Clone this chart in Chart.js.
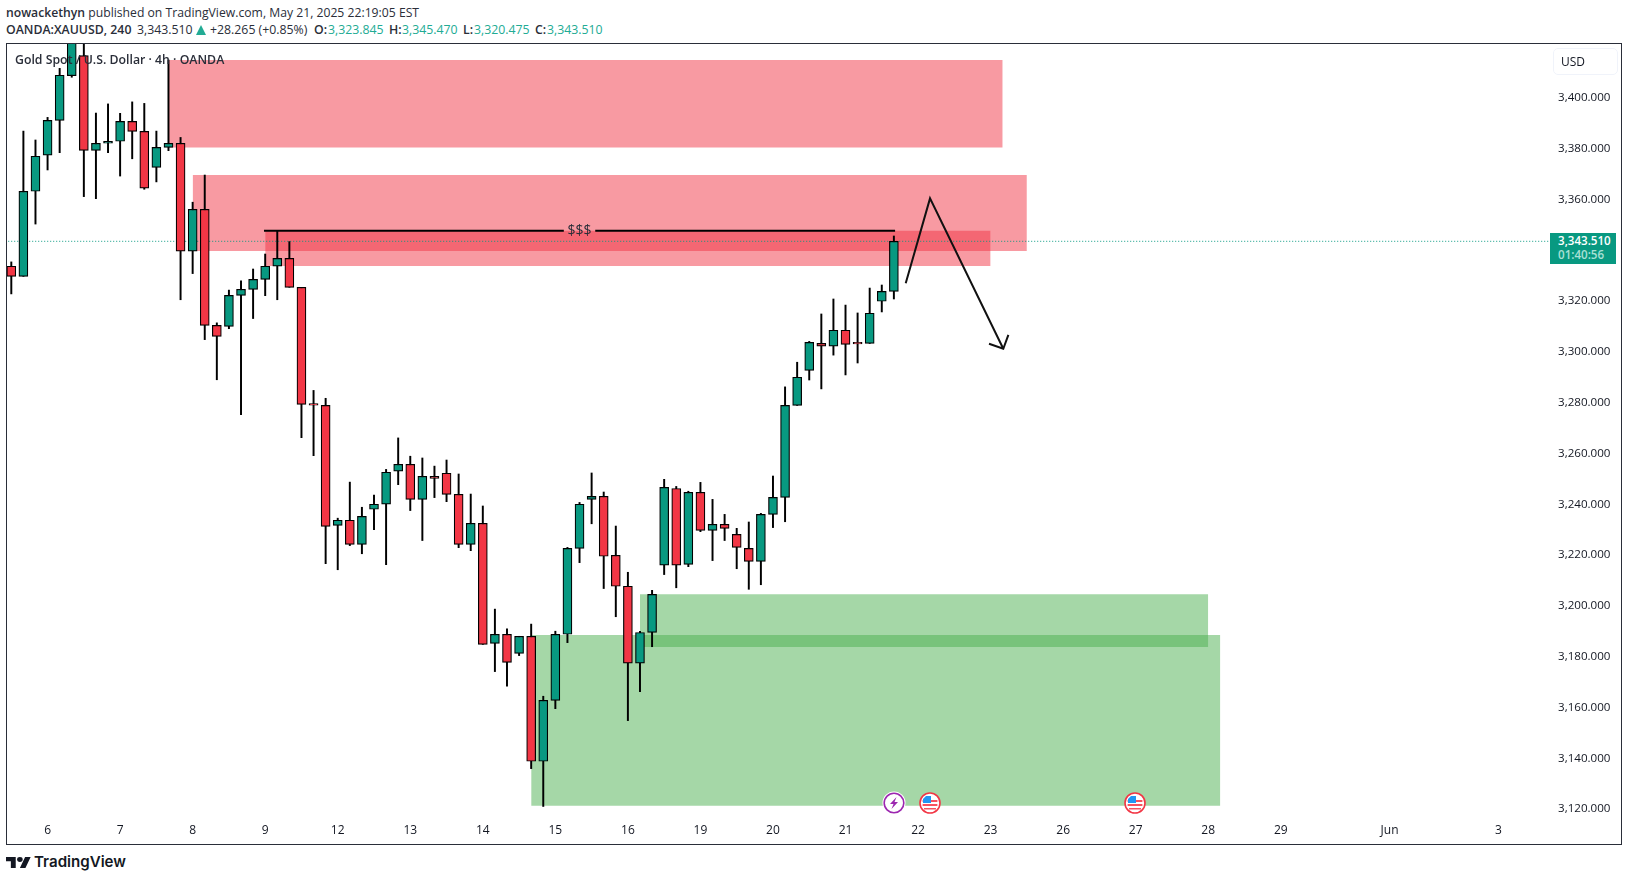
<!DOCTYPE html>
<html>
<head>
<meta charset="utf-8">
<title>XAUUSD 4h</title>
<script src="https://cdn.jsdelivr.net/npm/chart.js@4/dist/chart.umd.js"></script>
<style>
  html, body { margin: 0; padding: 0; background: #fff; }
  body { width: 1628px; height: 881px; overflow: hidden; position: relative; font-family: "Open Sans", sans-serif; color: #131722; }
  .abs { position: absolute; white-space: nowrap; }
  #frame { position: absolute; left: 6px; top: 43px; width: 1614px; height: 800px; border: 1px solid #2a2e39; }
  #chart { display: block; }
  .head { font-size: 12.2px; line-height: 16px; color: #2a2e39; }
  .row2 { font-size: 12.3px; line-height: 16px; color: #2a2e39; top: 22px; }
  .b { font-weight: 600; }
  .teal { color: #22ab94; }
  #legendText { left: 15px; top: 51px; font-size: 12.3px; line-height: 18px; font-weight: 600; color: #2a2e39; }
  #usd { left: 1553px; top: 48px; width: 63px; height: 25px; border: 1px solid #f0f3fa; border-radius: 5px; box-sizing: content-box; font-size: 12px; line-height: 25px; text-indent: 7px; }
  #tag { left: 1550px; top: 233px; width: 66px; height: 31px; background: #089981; }
  #tagPrice { left: 8px; top: 0px; font-size: 11.6px; line-height: 16px; font-weight: 600; color: #fff; }
  #tagTime { left: 8px; top: 14px; font-size: 11.6px; line-height: 16px; color: #a9e0d5; font-weight: 600; }
  #brand { left: 34px; top: 851px; font-family: Inter, sans-serif; font-size: 15.1px; line-height: 22px; font-weight: 600; color: #131722; }
</style>
</head>
<body>
<div class="abs head" style="left:6px;top:5px"><span class="b">nowackethyn</span> published on TradingView.com, May 21, 2025 22:19:05 EST</div>
<div class="abs row2 b" style="left:6px">OANDA:XAUUSD, 240</div>
<div class="abs row2" style="left:137px">3,343.510</div>
<svg class="abs" style="left:196px;top:25px" width="10" height="10" viewBox="0 0 10 10"><path d="M5 0 L10 10 H0 Z" fill="#22ab94"/></svg>
<div class="abs row2" style="left:210px">+28.265 (+0.85%)</div>
<div class="abs row2 b" style="left:314px">O:</div><div class="abs row2 teal" style="left:328px">3,323.845</div>
<div class="abs row2 b" style="left:389px">H:</div><div class="abs row2 teal" style="left:402px">3,345.470</div>
<div class="abs row2 b" style="left:463px">L:</div><div class="abs row2 teal" style="left:474px">3,320.475</div>
<div class="abs row2 b" style="left:535px">C:</div><div class="abs row2 teal" style="left:547px">3,343.510</div>

<div id="frame"><canvas id="chart" width="1614" height="800"></canvas></div>

<div class="abs" id="legendText">Gold Spot / U.S. Dollar · 4h · OANDA</div>
<div class="abs" id="usd">USD</div>
<div class="abs" id="tag">
  <div class="abs" id="tagPrice">3,343.510</div>
  <div class="abs" id="tagTime">01:40:56</div>
</div>

<!-- event badges on the time axis -->
<svg class="abs" style="left:882px;top:791px" width="24" height="24" viewBox="0 0 24 24">
  <circle cx="12" cy="12" r="11.5" fill="#fff"/>
  <circle cx="12" cy="12" r="9.8" fill="#fff" stroke="#9c27b0" stroke-width="1.6"/>
  <path d="M14.5 6 L8 13 H11.5 L9.5 18 L16 11 H12.5 Z" fill="#9c27b0"/>
</svg>
<svg class="abs" style="left:918px;top:791px" width="24" height="24" viewBox="0 0 24 24">
  <circle cx="12" cy="12" r="10" fill="#fff" stroke="#f23645" stroke-width="1.6"/>
  <path d="M4.6 9 H19.4 V11 H4.6 Z M4.6 13 H19.4 V15 H4.6 Z M6 17 H18 V18.6 H6 Z" fill="#f7525f"/>
  <path d="M5 12 V8 L8 5 H13 V12 Z" fill="#2196f3"/>
</svg>
<svg class="abs" style="left:1123px;top:791px" width="24" height="24" viewBox="0 0 24 24">
  <circle cx="12" cy="12" r="10" fill="#fff" stroke="#f23645" stroke-width="1.6"/>
  <path d="M4.6 9 H19.4 V11 H4.6 Z M4.6 13 H19.4 V15 H4.6 Z M6 17 H18 V18.6 H6 Z" fill="#f7525f"/>
  <path d="M5 12 V8 L8 5 H13 V12 Z" fill="#2196f3"/>
</svg>

<svg class="abs" style="left:6px;top:857px" width="25" height="11" viewBox="0 4 36 18" preserveAspectRatio="none">
  <path d="M14 22H7V11H0V4h14v18zM28 22h-8l7.5-18h8L28 22z" fill="#131722"/>
  <circle cx="20" cy="8" r="4" fill="#131722"/>
</svg>
<div class="abs" id="brand">TradingView</div>

<script>
// candles, oldest first
const opens = [3333.7,3329.7,3363.2,3377.4,3391.1,3408.7,3416.6,3379.3,3382.1,3382.9,3390.7,3386.8,3372.6,3380.5,3382.1,3339.6,3356.1,3310.4,3310.0,3322.2,3324.6,3328.5,3333.7,3336.8,3325.4,3279.3,3278.9,3231.7,3233.7,3224.2,3238.0,3240.0,3253.0,3255.7,3241.9,3251.0,3252.2,3243.9,3224.2,3232.5,3185.2,3188.8,3181.3,3188.0,3138.8,3162.8,3188.8,3222.6,3241.9,3243.1,3219.9,3207.7,3177.4,3189.5,3216.0,3246.2,3216.3,3244.7,3229.7,3232.1,3228.1,3222.6,3217.5,3236.0,3242.7,3278.9,3292.7,3303.3,3302.2,3308.5,3303.3,3303.3,3319.9,3323.8];
const closes = [3329.7,3363.2,3377.0,3391.1,3408.9,3424.0,3379.3,3382.1,3382.9,3390.7,3386.8,3364.4,3380.5,3382.1,3339.6,3356.1,3310.4,3306.1,3322.2,3324.6,3328.5,3333.7,3336.8,3325.4,3279.3,3279.0,3231.3,3233.7,3224.2,3235.2,3240.0,3252.6,3255.7,3241.9,3251.0,3250.2,3243.9,3224.2,3232.5,3184.8,3188.8,3177.7,3188.0,3138.8,3162.8,3188.8,3222.6,3240.0,3243.1,3219.5,3207.7,3177.4,3189.5,3204.5,3246.6,3216.0,3244.7,3229.7,3232.1,3230.5,3223.0,3217.5,3236.0,3242.7,3278.9,3290.0,3303.7,3302.2,3308.5,3302.9,3303.1,3315.2,3323.8,3343.5];
const highs = [3335.4,3386.9,3383.4,3392.3,3411.6,3430.0,3425.0,3394.0,3397.6,3393.9,3398.4,3397.8,3386.9,3414.9,3384.4,3358.9,3369.6,3311.4,3324.3,3327.9,3332.6,3338.5,3347.7,3343.4,3325.4,3284.8,3281.7,3234.5,3248.7,3238.8,3243.6,3253.7,3266.1,3258.9,3258.2,3255.0,3257.4,3251.9,3244.0,3239.3,3198.7,3190.9,3188.0,3192.8,3164.4,3190.0,3223.0,3240.7,3252.3,3244.8,3231.4,3213.2,3190.0,3206.1,3249.8,3247.0,3245.1,3248.6,3241.9,3236.0,3230.5,3233.0,3236.4,3251.1,3286.2,3295.9,3304.1,3314.9,3320.8,3318.4,3315.3,3325.1,3326.3,3345.6];
const lows = [3322.8,3329.7,3350.3,3371.6,3378.4,3408.1,3361.1,3360.3,3378.4,3369.2,3376.0,3364.0,3366.9,3379.2,3320.5,3330.8,3304.8,3289.0,3309.1,3275.3,3313.1,3322.1,3320.5,3325.4,3266.2,3259.1,3216.6,3214.2,3223.7,3220.5,3230.0,3216.2,3247.7,3237.5,3225.7,3242.6,3241.0,3222.9,3221.7,3184.8,3174.1,3168.4,3180.4,3135.9,3121.0,3159.5,3185.5,3217.0,3232.3,3206.8,3195.7,3154.8,3166.2,3183.9,3212.3,3207.1,3215.4,3229.2,3217.8,3225.7,3214.6,3206.5,3208.3,3230.8,3233.1,3278.9,3288.9,3285.4,3298.7,3290.9,3295.6,3303.3,3315.7,3320.8];

// price axis (3,340 is hidden behind the last price tag in the picture)
const priceTicks = [3400,3380,3360,3320,3300,3280,3260,3240,3220,3200,3180,3160,3140,3120];
const lastPrice = 3343.51;

// time axis, tick index on the candle scale and its label
const timeTickIndex = [3,9,15,21,27,33,39,45,51,57,63,69,75,81,87,93,99,105,114,123];
const timeTickLabels = ["6","7","8","9","12","13","14","15","16","19","20","21","22","23","26","27","28","29","Jun","3"];

// supply and demand zones (index from, index to, price top, price bottom)
const redStart = [13,15,21];
const redEnd = [82,84,81];
const redTop = [3414.9,3369.6,3347.7];
const redBottom = [3380.4,3339.7,3333.8];
const greenStart = [52,43];
const greenEnd = [99,100];
const greenTop = [3204.6,3188.5];
const greenBottom = [3183.8,3121.3];

// the $$$ liquidity line
const levelPrice = 3347.7;
const levelLeftX = [20.9,45.7];
const levelRightX = [48.3,73.1];
const levelLabel = "$$$";

// hand drawn arrow
const arrowX = [73.98,75.99,82.05];
const arrowY = [3327.0,3360.4,3301.2];
const arrowHeadX = [80.87,82.05,82.47];
const arrowHeadY = [3303.2,3301.2,3306.7];

const UP = "#089981";
const DOWN = "#f23645";
const INK = "#000";

const toPoints = (xs, ys) => xs.map((x, i) => ({ x, y: ys[i] }));

const zone = (x0, x1, top, bottom, color) => ({
  type: "line",
  data: [{ x: x0, y: top }, { x: x1, y: top }],
  fill: { value: bottom },
  backgroundColor: color,
  borderColor: "transparent",
  borderWidth: 0,
  pointRadius: 0,
  order: 10,
});

const stroke = (data, width, color, order) => ({
  type: "line",
  data,
  borderColor: color,
  borderWidth: width,
  pointRadius: 0,
  tension: 0,
  fill: false,
  order,
});

const zones = [
  ...redStart.map((x, i) => zone(x, redEnd[i], redTop[i], redBottom[i], "rgba(242,54,69,0.5)")),
  ...greenStart.map((x, i) => zone(x, greenEnd[i], greenTop[i], greenBottom[i], "rgba(76,175,80,0.5)")),
];

const lastPriceLine = stroke([{ x: -1, y: lastPrice }, { x: 128, y: lastPrice }], 1, UP, 9);
lastPriceLine.borderDash = [1, 2];

const wicks = {
  type: "bar",
  data: highs.map((h, i) => ({ x: i, y: [lows[i], h] })),
  backgroundColor: INK,
  barThickness: 1.3,
  grouped: false,
  order: 3,
};

const bodies = {
  type: "bar",
  data: opens.map((o, i) => ({ x: i, y: [o, closes[i]] })),
  backgroundColor: opens.map((o, i) => (closes[i] >= o ? UP : DOWN)),
  borderColor: INK,
  borderWidth: 1.2,
  borderSkipped: false,
  barThickness: 9,
  minBarLength: 1.5,
  grouped: false,
  order: 2,
};

// puts the $$$ text into the gap of the level line
const levelLabelPlugin = {
  id: "levelLabel",
  afterDatasetsDraw(chart) {
    const { ctx, scales } = chart;
    const x = scales.x.getPixelForValue((levelLeftX[1] + levelRightX[0]) / 2);
    const y = scales.y.getPixelForValue(levelPrice);
    ctx.save();
    ctx.font = '14px "Open Sans"';
    ctx.fillStyle = "#2a2e39";
    ctx.textAlign = "center";
    ctx.textBaseline = "middle";
    ctx.fillText(levelLabel, x, y);
    ctx.restore();
  },
};

// the axis labels must not push the plot area in, it is pinned to the frame
const noLabelPadding = (scale) => {
  scale.paddingLeft = scale.paddingRight = scale.paddingTop = scale.paddingBottom = 0;
};

new Chart(document.getElementById("chart"), {
  type: "bar",
  data: {
    datasets: [
      ...zones,
      lastPriceLine,
      wicks,
      bodies,
      stroke(toPoints(levelLeftX, [levelPrice, levelPrice]), 2, INK, 1),
      stroke(toPoints(levelRightX, [levelPrice, levelPrice]), 2, INK, 1),
      stroke(toPoints(arrowX, arrowY), 2, "#111", 1),
      stroke(toPoints(arrowHeadX, arrowHeadY), 2, "#111", 1),
    ],
  },
  plugins: [levelLabelPlugin],
  options: {
    responsive: false,
    animation: false,
    devicePixelRatio: 1,
    layout: { padding: 0 },
    plugins: { legend: { display: false }, tooltip: { enabled: false } },
    scales: {
      x: {
        type: "linear",
        offset: false,
        min: -0.3557,
        max: 127.27,
        grid: { display: false },
        border: { display: false },
        afterFit: (scale) => { scale.height = 26; noLabelPadding(scale); },
        afterBuildTicks: (scale) => { scale.ticks = timeTickIndex.map((value) => ({ value })); },
        ticks: {
          autoSkip: false,
          maxRotation: 0,
          padding: -3,
          color: "#131722",
          font: { family: "Open Sans", size: 12 },
          callback: (value) => timeTickLabels[timeTickIndex.indexOf(value)],
        },
      },
      y: {
        type: "linear",
        position: "right",
        min: 3116.46,
        max: 3421.19,
        grid: { display: false, drawTicks: false },
        border: { display: false },
        afterFit: (scale) => { scale.width = 71; noLabelPadding(scale); },
        afterBuildTicks: (scale) => { scale.ticks = priceTicks.map((value) => ({ value })); },
        ticks: {
          padding: 8,
          color: "#131722",
          font: { family: "Open Sans", size: 11.6 },
          callback: (value) => value.toLocaleString("en-US", { minimumFractionDigits: 3 }),
        },
      },
    },
  },
});
</script>
</body>
</html>
